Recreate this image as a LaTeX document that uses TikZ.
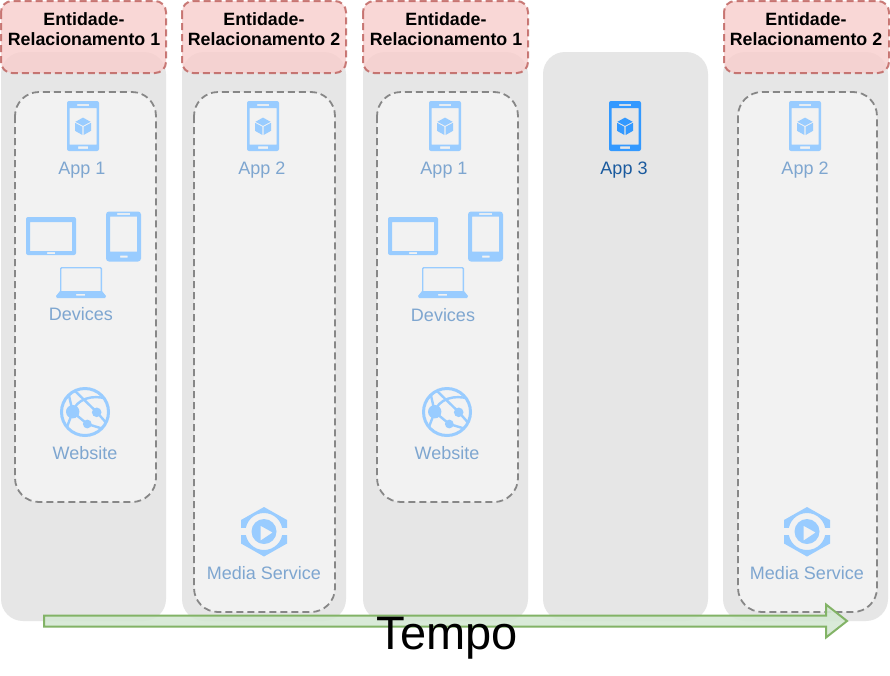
\documentclass[tikz,border=0pt]{standalone}
\usepackage{fontspec}
\setmainfont{Liberation Sans}
\definecolor{colgrey}{HTML}{E6E6E6}
\definecolor{innerfill}{HTML}{F2F2F2}
\definecolor{icon}{HTML}{99CCFF}
\definecolor{iconstrong}{HTML}{3399FF}
\definecolor{lab}{HTML}{7EA6D0}
\definecolor{labstrong}{HTML}{1A5A9E}
\definecolor{redfill}{HTML}{F8CECC}
\definecolor{redline}{HTML}{B85450}
\definecolor{greenfill}{HTML}{D5E8D4}
\definecolor{greenline}{HTML}{82B366}
\tikzset{
  column/.style={fill=colgrey,rounded corners=22pt,draw=none},
  innergroup/.style={fill=innerfill,draw=black!47,line width=1.8pt,dash pattern=on 7pt off 4pt,rounded corners=24pt},
  redbox/.style={fill=redfill,fill opacity=.8,draw=redline,draw opacity=.75,line width=2pt,dash pattern=on 7pt off 4pt,rounded corners=11pt},
  titletext/.style={align=center,inner sep=0pt,text=black,font=\fontsize{17.8}{20}\selectfont\bfseries},
  lbl/.style={inner sep=0pt,text=lab,font=\fontsize{18}{20}\selectfont},
  pics/phone/.style={code={
    \fill[#1,even odd rule,rounded corners=2pt] (0,0) rectangle (32,50) [sharp corners] (2.5,7) rectangle (29.5,43.5)
      (10,3) rectangle (22,4.8) (11,45.3) rectangle (21,47.8);
    \fill[#1] (16,16.6) -- (23.6,20.8) -- (16,24.8) -- (8.4,20.8) -- cycle;
    \fill[#1] (8,21.8) -- (15.4,25.8) -- (15.4,34) -- (8,29.8) -- cycle;
    \fill[#1] (24,21.8) -- (16.6,25.8) -- (16.6,34) -- (24,29.8) -- cycle;
  }},
  pics/tablet/.style={code={
    \fill[icon,even odd rule,rounded corners=2pt] (0,0) rectangle (50,38) [sharp corners] (4,5) rectangle (46,34) (21,35.2) rectangle (29,37);
  }},
  pics/handset/.style={code={
    \fill[icon,even odd rule,rounded corners=3pt] (0,0) rectangle (35,50) [sharp corners] (4,5) rectangle (31,40) (11,1.6) rectangle (24,3.3) (14,44) rectangle (21.5,46);
  }},
  pics/laptop/.style={code={
    \draw[icon,line width=1.4pt,rounded corners=1pt] (4.7,24) -- (4.7,0.7) -- (45.3,0.7) -- (45.3,24);
    \fill[icon,even odd rule] (4,24) -- (46,24) -- (50,29) -- (49,31) -- (1,31) -- (0,29) -- cycle (20,26.8) rectangle (29,28.6);
  }},
  pics/globe/.style={code={
    \draw[icon,line width=3pt] (0,0) circle (23.5);
    \begin{scope}
      \clip (0,0) circle (24);
      \draw[icon,line width=2.4pt] (-17,-21) -- (-12.3,0) -- (-20,20);
      \draw[icon,line width=2.4pt] (-10,-21) -- (11.7,0) -- (24,14);
      \draw[icon,line width=2.4pt] (-12.3,0) -- (2.3,12) -- (22,18);
      \draw[icon,line width=2.4pt] (-12.3,0) .. controls (-9,-13) and (8,-18) .. (22,-13);
    \end{scope}
    \fill[icon] (-12.3,-0.3) circle (6.7);
    \fill[icon] (11.7,0.3) circle (4.8);
    \fill[icon] (2.3,12) circle (4.4);
  }},
  pics/media/.style={code={
    \fill[icon,even odd rule] (0,-24.5) -- (23,-11.5) -- (23,12) -- (0,25) -- (-23,12) -- (-23,-11.5) -- cycle (0,0) circle (18.5);
    \fill[innerfill] (-24,-3.2) rectangle (-12,3.2);
    \fill[innerfill] (24,-3.2) rectangle (12,3.2);
    \fill[icon,even odd rule] (0,0) circle (12.5) (-3.3,-5.7) -- (8.7,1) -- (-3.3,9) -- cycle;
  }}
}
\begin{document}
\begin{tikzpicture}[x=1pt,y=-1pt]
\useasboundingbox (0,0) rectangle (890,675);
\fill[white] (0,0) rectangle (890,675);
% grey columns
\path[column] (1,52) rectangle (166,621);
\path[column] (182,52) rectangle (346,621);
\path[column] (363,52) rectangle (528,621);
\path[column] (543,52) rectangle (708,621);
\path[column] (723,52) rectangle (888,621);
% dashed groups
\draw[innergroup] (15,92) rectangle (156,502);
\draw[innergroup] (194,92) rectangle (335,612);
\draw[innergroup] (377,92) rectangle (518,502);
\draw[innergroup] (738,92) rectangle (877,612);
% red headers
\draw[redbox] (1,1) rectangle (166,73);
\draw[redbox] (182,1) rectangle (346,73);
\draw[redbox] (363,1) rectangle (528,73);
\draw[redbox] (724,1) rectangle (889,73);
\node[titletext] (t1) at (84,29.5) {Entidade-\\Relacionamento 1};
\node[titletext] (t2) at (264,29.5) {Entidade-\\Relacionamento 2};
\node[titletext] (t3) at (446,29.5) {Entidade-\\Relacionamento 1};
\node[titletext] (t5) at (806,29.5) {Entidade-\\Relacionamento 2};
% phones
\pic at (67,101) {phone=icon};
\pic at (247,101) {phone=icon};
\pic at (429,101) {phone=icon};
\pic at (609,101) {phone=iconstrong};
\pic at (789,101) {phone=icon};
\node[lbl] (a1) at (82,170) {App 1};
\node[lbl] (a2) at (262,170) {App 2};
\node[lbl] (a3) at (444,170) {App 1};
\node[lbl,text=labstrong] (a4) at (624,170) {App 3};
\node[lbl] (a5) at (805,170) {App 2};
% devices
\pic at (26,217) {tablet};
\pic at (106,211.5) {handset};
\pic at (56,267) {laptop};
\node[lbl] (d1) at (81,314) {Devices};
\pic at (388,217) {tablet};
\pic at (468,211.5) {handset};
\pic at (418,267) {laptop};
\node[lbl] (d2) at (443,315) {Devices};
% websites
\pic at (85,412) {globe};
\node[lbl] (w1) at (85,453) {Website};
\pic at (447,412) {globe};
\node[lbl] (w2) at (447,453) {Website};
% media
\pic at (264,531.5) {media};
\node[lbl] (m1) at (264,573) {Media Service};
\pic at (807,531.5) {media};
\node[lbl] (m2) at (807,573) {Media Service};
% time arrow
\draw[fill=greenfill,fill opacity=.9,draw=greenline,line width=2pt]
  (44,615.5) -- (826,615.5) -- (826,604.5) -- (847,621) -- (826,637.5) -- (826,626.5) -- (44,626.5) -- cycle;
\node[inner sep=0pt,font=\fontsize{47}{50}\selectfont] (tempo) at (447,638) {Tempo};
\end{tikzpicture}
\end{document}
